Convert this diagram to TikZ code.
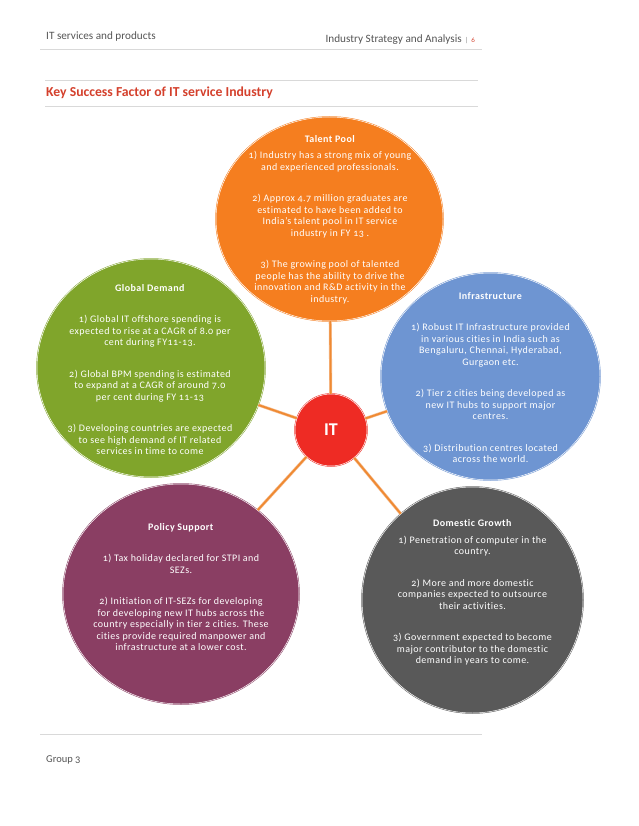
\documentclass[tikz,border=0pt]{standalone}
\usepackage{fontspec}
\setmainfont{Carlito}[Numbers=OldStyle,Ligatures=NoCommon]
\newfontfamily\bubfont{Carlito}[Numbers=OldStyle,LetterSpace=4.5,Ligatures=NoCommon]
\usetikzlibrary{shapes.geometric}

\definecolor{talentc}{HTML}{F57E1F}
\definecolor{demandc}{HTML}{80A52B}
\definecolor{infrac}{HTML}{6E95D2}
\definecolor{policyc}{HTML}{8A3E63}
\definecolor{domesticc}{HTML}{595959}
\definecolor{itred}{HTML}{EE2B24}
\definecolor{titlered}{HTML}{D4402C}
\definecolor{hdgray}{HTML}{555555}
\definecolor{linkc}{HTML}{EF8A33}
\definecolor{linkedge}{HTML}{F6BC8E}

\begin{document}
\begin{tikzpicture}[x=1pt,y=-1pt,
bubble/.style={ellipse,fill=#1,draw=#1,double=white,double distance=.5pt,line width=.5pt,inner sep=0pt},
bubtext/.style={text=white,align=center,inner sep=0pt,font=\bubfont\fontsize{10}{11.5}\selectfont},
link/.style={draw=linkedge,double=linkc,double distance=1.8pt,line width=.6pt},
rule/.style={draw=gray!30,line width=.7pt},
hdr/.style={text=hdgray,font=\fontsize{11.2}{13}\selectfont,inner sep=0pt}]
\fill[white] (0,0) rectangle (638,826);
% page head and title
\node[hdr,anchor=base west] (hleft) at (46,40) {IT services and products};
\node[hdr,anchor=base east] (hright) at (462,43) {Industry Strategy and Analysis};
\node[anchor=base west,inner sep=0pt,font=\fontsize{7}{8}\selectfont] (pagenum) at ([xshift=3pt]hright.base east) {\textcolor{gray}{|}\hspace{3pt}\textcolor{titlered}{6}};
\draw[rule] (40,49) -- (482,49);
\draw[rule] (45,80) -- (478,80);
\node[anchor=base west,inner sep=0pt,text=titlered,font=\bfseries\fontsize{13.7}{15}\selectfont] (title) at (46,97) {Key Success Factor of IT service Industry};
\draw[rule] (45,106.5) -- (478,106.5);
% the five factors
\node[bubble=talentc,minimum width=227,minimum height=204] (talent) at (329.5,219) {};
\node[bubble=demandc,minimum width=228,minimum height=218] (demand) at (151,368) {};
\node[bubble=infrac,minimum width=219,minimum height=207] (infra) at (490.5,376.5) {};
\node[bubble=policyc,minimum width=236,minimum height=220] (policy) at (181,594) {};
\node[bubble=domesticc,minimum width=221,minimum height=226] (domestic) at (472.5,600) {};
\node[bubble=itred,minimum width=72,minimum height=72,text=white,font=\bfseries\fontsize{18}{20}\selectfont] (it) at (331,430) {IT};
\foreach \f in {talent,demand,infra,policy,domestic}
  \draw[link] (it) -- (\f);
\node[bubtext] (talenttxt) at (330,219.6) {\textbf{Talent Pool}\\[5pt]1) Industry has a strong mix of young\\and experienced professionals.\\[20pt]2) Approx 4.7 million graduates are\\estimated to have been added to\\India’s talent pool in IT service\\industry in FY 13 .\\[20pt]3) The growing pool of talented\\people has the ability to drive the\\innovation and R\&D activity in the\\industry.};
\node[bubtext] (demandtxt) at (150,369.6) {\textbf{Global Demand}\\[20pt]1) Global IT offshore spending is\\expected to rise at a CAGR of 8.0 per\\cent during FY11-13.\\[20pt]2) Global BPM spending is estimated\\to expand at a CAGR of around 7.0\\per cent during FY 11-13\\[20pt]3) Developing countries are expected\\to see high demand of IT related\\services in time to come};
\node[bubtext] (infratxt) at (490.5,377.6) {\textbf{Infrastructure}\\[20pt]1) Robust IT Infrastructure provided\\in various cities in India such as\\Bengaluru, Chennai, Hyderabad,\\Gurgaon etc.\\[20pt]2) Tier 2 cities being developed as\\new IT hubs to support major\\centres.\\[20pt]3) Distribution centres located\\across the world.};
\node[bubtext] (policytxt) at (181,587.1) {\textbf{Policy Support}\\[20pt]1) Tax holiday declared for STPI and\\SEZs.\\[20pt]2) Initiation of IT-SEZs for developing\\for developing new IT hubs across the\\country especially in tier 2 cities. These\\cities provide required manpower and\\infrastructure at a lower cost.};
\node[bubtext] (domestictxt) at (472.5,592.6) {\textbf{Domestic Growth}\\[5pt]1) Penetration of computer in the\\country.\\[20pt]2) More and more domestic\\companies expected to outsource\\their activities.\\[20pt]3) Government expected to become\\major contributor to the domestic\\demand in years to come.};
% page foot
\draw[rule] (40,734) -- (482,734);
\node[hdr,anchor=base west,font=\fontsize{10.5}{12}\selectfont] (group) at (46,762) {Group 3};
\end{tikzpicture}
\end{document}
